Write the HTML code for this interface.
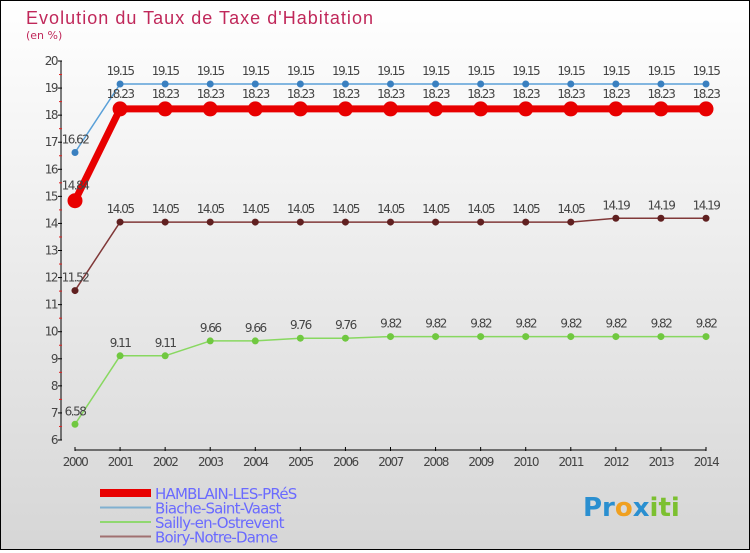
<!DOCTYPE html>
<html><head><meta charset="utf-8"><style>
html,body{margin:0;padding:0}
body{width:750px;height:550px;overflow:hidden;font-family:"DejaVu Sans","Liberation Sans",sans-serif}
#wrap{position:relative;width:748px;height:548px;border:1px solid #000;background:linear-gradient(#ffffff,#d6d6d6)}
</style></head><body>
<div id="wrap">
<svg id="chart" width="748" height="548" viewBox="1 1 748 548" xmlns="http://www.w3.org/2000/svg">
<text x="26" y="24" font-size="18" fill="#c0285a" font-family="Liberation Sans, sans-serif" textLength="347">Evolution du Taux de Taxe d'Habitation</text>
<text x="26" y="39" font-size="11" fill="#c0285a">(en %)</text>
<g id="axes"></g>
<g id="series"></g>
<g id="legend"></g>
<text x="583" y="516" font-size="26" font-weight="bold" font-family="DejaVu Sans, sans-serif"><tspan fill="#2a8fd0">Pr</tspan><tspan fill="#f0a020">o</tspan><tspan fill="#2a8fd0">x</tspan><tspan fill="#7cc030">iti</tspan></text>
</svg>
</div>
<script>
const years=[2000,2001,2002,2003,2004,2005,2006,2007,2008,2009,2010,2011,2012,2013,2014];
const yTicks=[6,7,8,9,10,11,12,13,14,15,16,17,18,19,20];
const hamblain=[14.84,18.23,18.23,18.23,18.23,18.23,18.23,18.23,18.23,18.23,18.23,18.23,18.23,18.23,18.23];
const biache=[16.62,19.15,19.15,19.15,19.15,19.15,19.15,19.15,19.15,19.15,19.15,19.15,19.15,19.15,19.15];
const sailly=[6.58,9.11,9.11,9.66,9.66,9.76,9.76,9.82,9.82,9.82,9.82,9.82,9.82,9.82,9.82];
const boiry=[11.52,14.05,14.05,14.05,14.05,14.05,14.05,14.05,14.05,14.05,14.05,14.05,14.19,14.19,14.19];
const seriesNames=["HAMBLAIN-LES-PRéS","Biache-Saint-Vaast","Sailly-en-Ostrevent","Boiry-Notre-Dame"];

const NS="http://www.w3.org/2000/svg";
const X=i=>75+i*(631/(years.length-1));
const Y=v=>440-(v-6)*(379/14);
function mk(tag,attrs,parent){const e=document.createElementNS(NS,tag);for(const k in attrs)e.setAttribute(k,attrs[k]);parent.appendChild(e);return e;}
const axes=document.getElementById('axes');
let l=mk('line',{x1:61,y1:Y(20),x2:61,y2:Y(6),stroke:'#000','stroke-width':1},axes);


l=mk('line',{x1:75,y1:450,x2:706,y2:450,stroke:'#000','stroke-width':1},axes);


yTicks.forEach(v=>{
 let t=mk('line',{x1:58,y1:Y(v),x2:62,y2:Y(v),stroke:'#000'},axes);
 
 
 if(v<20){let m=mk('line',{x1:59,y1:Y(v+0.5),x2:62,y2:Y(v+0.5),stroke:'#e02020'},axes);
 
 }
 let tx=mk('text',{x:57,y:Y(v)+4,'text-anchor':'end','font-size':12,fill:'#444','letter-spacing':'-1.5'},axes);
 tx.textContent=v;
 
 
});
years.forEach((yr,i)=>{
 let t=mk('line',{x1:X(i),y1:447,x2:X(i),y2:451,stroke:'#000'},axes);
 
 
 let tx=mk('text',{x:X(i),y:466,'text-anchor':'middle','font-size':12,fill:'#444','letter-spacing':'-1.5'},axes);
 tx.textContent=yr;
 
 
});
const sg=document.getElementById('series');
function drawSeries(vals,color,dot,lw,r,name,labelDy){
 const g=mk('g',{},sg);
 
 
 const p=mk('polyline',{points:vals.map((v,i)=>X(i)+','+Y(v)).join(' '),fill:'none',stroke:color,'stroke-width':lw,'stroke-linejoin':'round'},g);
 
 
 vals.forEach((v,i)=>{
  const c=mk('circle',{cx:X(i),cy:Y(v),r:r,fill:dot},g);
  
  
  if(labelDy!==null){
   const t=mk('text',{x:X(i),y:Y(v)+labelDy,'text-anchor':'middle','font-size':12,fill:'#444','letter-spacing':'-1.5'},g);
   t.textContent=v;
   
   
  }
 });
}
drawSeries(sailly,'#88d860','#70c840',1.5,3.5,'sailly-series',-9);
drawSeries(boiry,'#803838','#602020',1.5,3.5,'boiry-series',-9);
drawSeries(biache,'#5aa0d8','#3a80c0',1.5,3.5,'biache-series',-9);
drawSeries(hamblain,'#e80000','#e80000',7,7.5,'hamblain-series',-11);
const lg=document.getElementById('legend');
const lcol=['#e80000','#80b0d0','#90d870','#a07070'],lw=[8,2,2,2];
seriesNames.forEach((n,i)=>{
 const y=493+i*14.5;
 const e=mk('line',{x1:100,y1:y,x2:151,y2:y,stroke:lcol[i],'stroke-width':lw[i]},lg);
 
 
 const t=mk('text',{x:155,y:y+6,'font-size':15,fill:'#6a6aff','letter-spacing':'-0.8'},lg);
 t.textContent=n;
 
 
});
</script>
</body></html>
